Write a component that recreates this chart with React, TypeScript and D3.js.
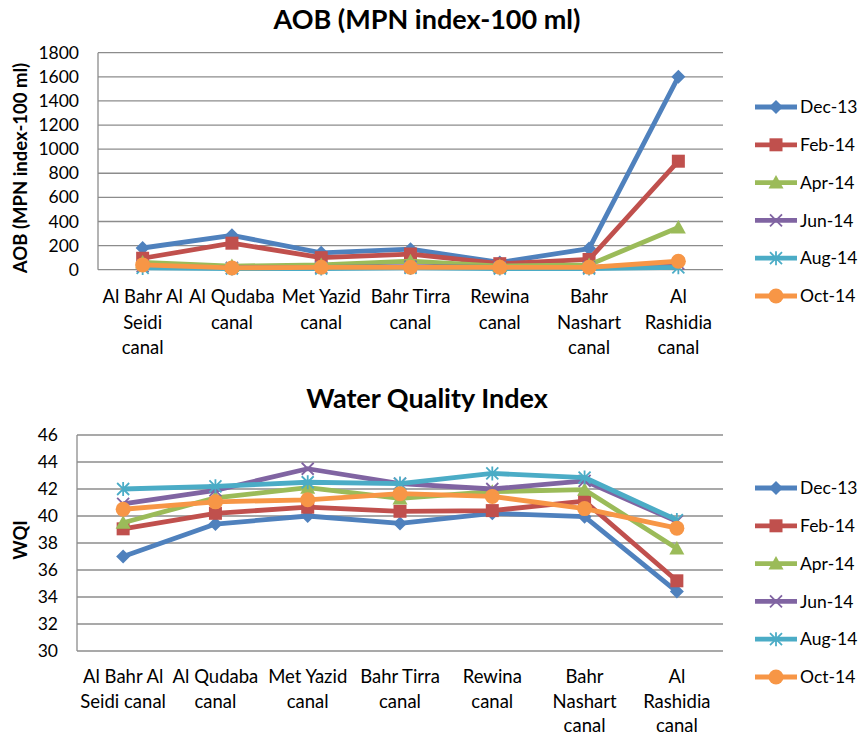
import React from "react";
import * as d3 from "d3";

const seriesNames = ["Dec-13", "Feb-14", "Apr-14", "Jun-14", "Aug-14", "Oct-14"];
const seriesColors = ["#4F81BD", "#C0504D", "#9BBB59", "#8064A2", "#4BACC6", "#F79646"];
const seriesMarkers = ["diamond", "square", "triangle", "x", "star", "circle"];

const categoryKeys = ["Al Bahr Al Seidi canal", "Al Qudaba canal", "Met Yazid canal", "Bahr Tirra canal", "Rewina canal", "Bahr Nashart canal", "Al Rashidia canal"];
const topCategoryLines = [["Al Bahr Al", "Seidi", "canal"], ["Al Qudaba", "canal"], ["Met Yazid", "canal"], ["Bahr Tirra", "canal"], ["Rewina", "canal"], ["Bahr", "Nashart", "canal"], ["Al", "Rashidia", "canal"]];
const bottomCategoryLines = [["Al Bahr Al", "Seidi canal"], ["Al Qudaba", "canal"], ["Met Yazid", "canal"], ["Bahr Tirra", "canal"], ["Rewina", "canal"], ["Bahr", "Nashart", "canal"], ["Al", "Rashidia", "canal"]];

// AOB (MPN index-100 ml)
const aobDec13 = [180, 285, 140, 170, 60, 175, 1600];
const aobFeb14 = [95, 220, 100, 130, 50, 85, 900];
const aobApr14 = [60, 30, 40, 70, 30, 40, 350];
const aobJun14 = [30, 15, 20, 25, 20, 20, 50];
const aobAug14 = [15, 10, 10, 15, 10, 10, 20];
const aobOct14 = [40, 15, 20, 20, 20, 20, 70];
const aobTicks = [0, 200, 400, 600, 800, 1000, 1200, 1400, 1600, 1800];

// WQI
const wqiDec13 = [37.0, 39.4, 40.0, 39.45, 40.2, 39.95, 34.4];
const wqiFeb14 = [39.05, 40.2, 40.65, 40.35, 40.4, 41.1, 35.2];
const wqiApr14 = [39.5, 41.35, 42.1, 41.3, 41.8, 41.95, 37.6];
const wqiJun14 = [40.9, 41.9, 43.5, 42.4, 42.0, 42.6, 39.6];
const wqiAug14 = [42.0, 42.2, 42.5, 42.4, 43.15, 42.85, 39.7];
const wqiOct14 = [40.5, 41.05, 41.2, 41.65, 41.45, 40.55, 39.1];
const wqiTicks = [30, 32, 34, 36, 38, 40, 42, 44, 46];

const FONT = "Lato, 'Open Sans', sans-serif";

function Marker({ type, x, y, color }: { type: string; x: number; y: number; color: string }) {
  if (type === "diamond") {
    const s = 7;
    return <path d={`M${x},${y - s}L${x + s},${y}L${x},${y + s}L${x - s},${y}Z`} fill={color} />;
  }
  if (type === "square") {
    const s = 6.5;
    return <rect x={x - s} y={y - s} width={2 * s} height={2 * s} fill={color} />;
  }
  if (type === "triangle") {
    const s = 7.5;
    return <path d={`M${x},${y - s}L${x + s},${y + s * 0.8}L${x - s},${y + s * 0.8}Z`} fill={color} />;
  }
  if (type === "x") {
    const s = 6;
    return <path d={`M${x - s},${y - s}L${x + s},${y + s}M${x - s},${y + s}L${x + s},${y - s}`} stroke={color} strokeWidth={1.8} fill="none" />;
  }
  if (type === "star") {
    const s = 6;
    return <path d={`M${x - s},${y - s}L${x + s},${y + s}M${x - s},${y + s}L${x + s},${y - s}M${x},${y - s - 1}L${x},${y + s + 1}`} stroke={color} strokeWidth={1.8} fill="none" />;
  }
  return <circle cx={x} cy={y} r={7.5} fill={color} />;
}

function Chart({ title, titleY, yLabel, yLabelY, left, right, top, bottom, domain, ticks, tickX, data, catLines, catY, catStep, legendY }: any) {
  const x = d3.scaleBand<string>().domain(categoryKeys).range([left, right]).padding(0);
  const cx = (i: number) => (x(categoryKeys[i]) as number) + x.bandwidth() / 2;
  const y = d3.scaleLinear().domain(domain).range([bottom, top]);
  const line = d3.line<number>().x((_, i) => cx(i)).y((d) => y(d));
  return (
    <g fontFamily={FONT}>
      <text x={427} y={titleY} textAnchor="middle" fontSize={27} fontWeight="bold" fill="#000">{title}</text>
      <text transform={`translate(27,${yLabelY}) rotate(-90)`} textAnchor="middle" fontSize={18.5} fontWeight="bold" fill="#000">{yLabel}</text>
      {ticks.map((t: number) => (
        <g key={t}>
          <line x1={left} x2={right} y1={y(t)} y2={y(t)} stroke="#8c8c8c" strokeWidth={1.3} />
          <text x={tickX} y={y(t)} dy="0.35em" textAnchor="end" fontSize={17.5} fill="#000">{t}</text>
        </g>
      ))}
      <line x1={left} x2={left} y1={y(domain[1])} y2={y(domain[0])} stroke="#8c8c8c" strokeWidth={1.3} />
      {catLines.map((lines: string[], i: number) => (
        <text key={i} x={cx(i)} y={catY} textAnchor="middle" fontSize={18.5} fill="#000">
          {lines.map((l, j) => (
            <tspan key={j} x={cx(i)} dy={j === 0 ? 0 : catStep}>{l}</tspan>
          ))}
        </text>
      ))}
      {data.map((vals: number[], s: number) => (
        <g key={s}>
          <path d={line(vals) as string} fill="none" stroke={seriesColors[s]} strokeWidth={4.8} strokeLinejoin="round" />
          {vals.map((v, i) => (
            <Marker key={i} type={seriesMarkers[s]} x={cx(i)} y={y(v)} color={seriesColors[s]} />
          ))}
        </g>
      ))}
      {seriesNames.map((n, s) => {
        const ly = legendY + s * 37.8;
        return (
          <g key={n}>
            <line x1={755} x2={797} y1={ly} y2={ly} stroke={seriesColors[s]} strokeWidth={4.8} />
            <Marker type={seriesMarkers[s]} x={776} y={ly} color={seriesColors[s]} />
            <text x={800} y={ly} dy="0.35em" fontSize={17.5} fill="#000">{n}</text>
          </g>
        );
      })}
    </g>
  );
}

export default function App() {
  const aobData = [aobDec13, aobFeb14, aobApr14, aobJun14, aobAug14, aobOct14];
  const wqiData = [wqiDec13, wqiFeb14, wqiApr14, wqiJun14, wqiAug14, wqiOct14];
  return (
    <svg width={863} height={737} style={{ position: "absolute", left: 0, top: 0, background: "#fff" }}>
      <rect width={863} height={737} fill="#fff" />
      <Chart title="AOB (MPN index-100 ml)" titleY={29} yLabel="AOB (MPN index-100 ml)" yLabelY={168}
        left={98} right={723} top={52.7} bottom={269.7} domain={[0, 1800]} ticks={aobTicks} tickX={79}
        data={aobData} catLines={topCategoryLines} catY={303} catStep={25.5} legendY={107} />
      <Chart title="Water Quality Index" titleY={408} yLabel="WQI" yLabelY={540}
        left={77} right={723} top={435} bottom={651} domain={[30, 46]} ticks={wqiTicks} tickX={58}
        data={wqiData} catLines={bottomCategoryLines} catY={683} catStep={24.5} legendY={488} />
    </svg>
  );
}
